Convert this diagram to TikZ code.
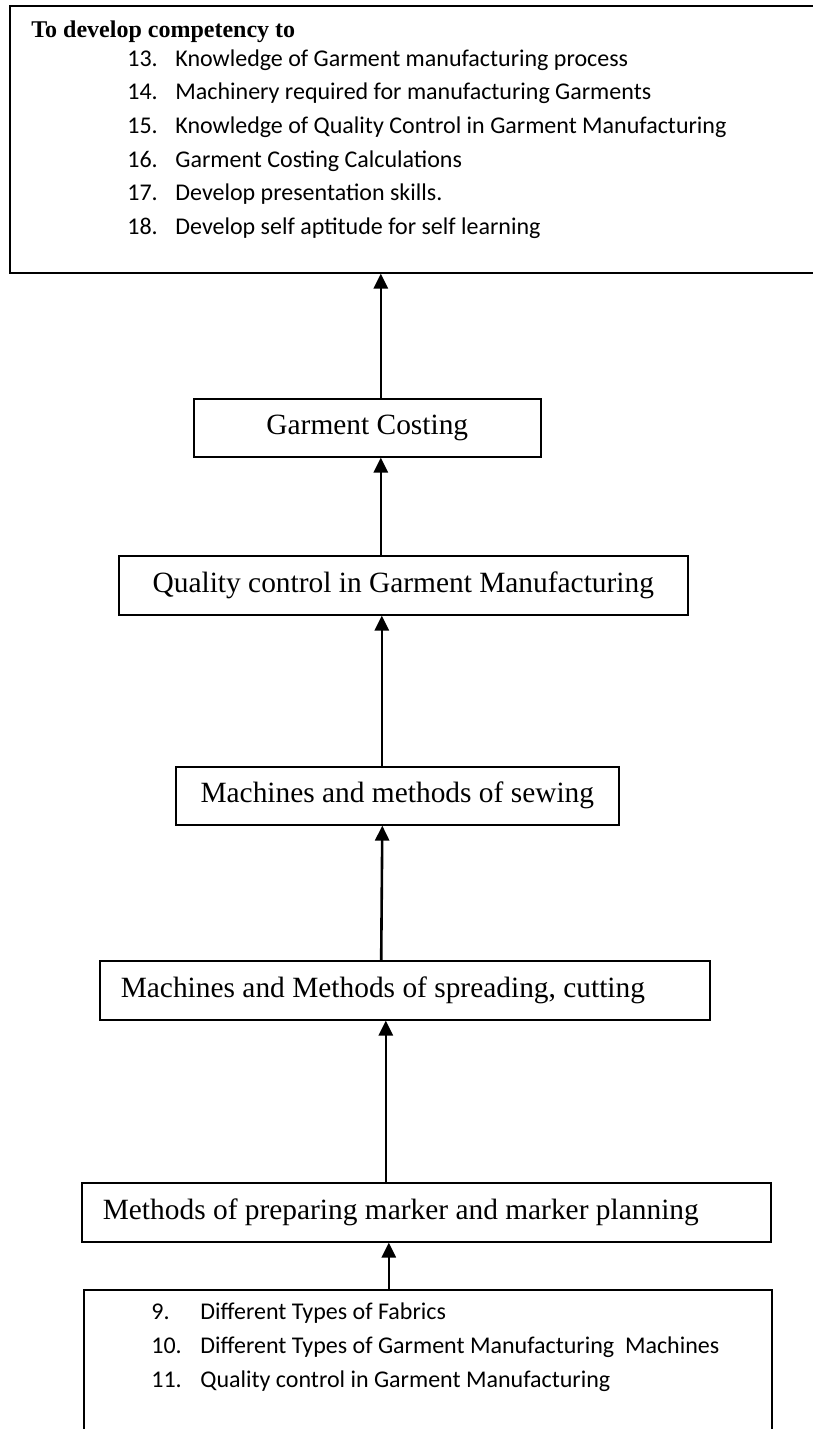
\documentclass[tikz,border=0pt]{standalone}
\usepackage{fontspec}
\setmainfont{Liberation Serif}
\newfontfamily\calibri{Carlito}
\usetikzlibrary{arrows.meta}

\begin{document}
\begin{tikzpicture}[x=0.5pt,y=-0.5pt,
		box/.style={draw,line width=0.8pt,anchor=north west,minimum height=29pt,inner sep=0pt,font=\fontsize{14.7}{17.5}\selectfont},
		arr/.style={line width=1.3pt,-{Triangle[width=7pt,length=7.5pt]}},
		num/.style={anchor=west,inner sep=0pt,font=\calibri\fontsize{12}{14}\selectfont,text height=1.6ex,text depth=.4ex},
		itm/.style={num}]
		\useasboundingbox (0,0) rectangle (813,1429);
		% outcomes at the top
		\node [box,minimum width=404.5pt,minimum height=133.5pt] (goal) at (9,5) {};
		\node [anchor=west,inner sep=0pt,font=\bfseries\fontsize{12}{14}\selectfont] (title) at (31,32) {To develop competency to};
		\foreach \n/\t [count=\i] in {13/Knowledge of Garment manufacturing process,14/Machinery required for manufacturing Garments,15/Knowledge of Quality Control in Garment Manufacturing,16/Garment Costing Calculations,17/Develop presentation skills.,18/Develop self aptitude for self learning} {
			\node [num] (n\n) at (127,26.8+33.7*\i) {\n.};
			\node [itm] (t\n) at (175,26.8+33.7*\i) {\t};
		}
		% steps
		\node [box,minimum width=173.5pt] (gc) at (193,398) {Garment Costing};
		\node [box,minimum width=284.5pt,minimum height=29.5pt] (qc) at (118,555) {Quality control in Garment Manufacturing};
		\node [box,minimum width=221.5pt] (sw) at (175,766) {Machines and methods of sewing};
		\node [box,minimum height=29.5pt,inner xsep=10.5pt] (sp) at (99,960) {\makebox[284pt][l]{Machines and Methods of spreading, cutting}};
		\node [box,minimum height=29.5pt,inner xsep=10.5pt] (mk) at (81,1182) {\makebox[323.5pt][l]{Methods of preparing marker and marker planning}};
		% prerequisites at the bottom
		\node [box,minimum width=344pt,minimum height=80.5pt] (base) at (83,1289) {};
		\foreach \n/\t [count=\i] in {9/Different Types of Fabrics,10/Different Types of Garment Manufacturing~ Machines,11/Quality control in Garment Manufacturing} {
			\node [num] (n\n) at (151,1280+34*\i) {\n.};
			\node [itm] (t\n) at (200,1280+34*\i) {\t};
		}
		\draw [arr] ([xshift=6.75pt]gc.north) -- ([xshift=-16.75pt]goal.south);
		\draw [arr] ([xshift=-11.25pt]qc.north) -- ([xshift=6.75pt]gc.south);
		\draw [arr] ([xshift=-7.75pt]sw.north) -- ([xshift=-10.75pt]qc.south);
		\draw [arr] ([xshift=-11.8pt]sp.north) -- ([xshift=-7.5pt]sw.south);
		\draw [arr] ([xshift=-20.25pt]mk.north) -- ([xshift=-9.5pt]sp.south);
		\draw [arr] ([xshift=-19.5pt]base.north) -- ([xshift=-18.75pt]mk.south);
	\end{tikzpicture}
\end{document}
